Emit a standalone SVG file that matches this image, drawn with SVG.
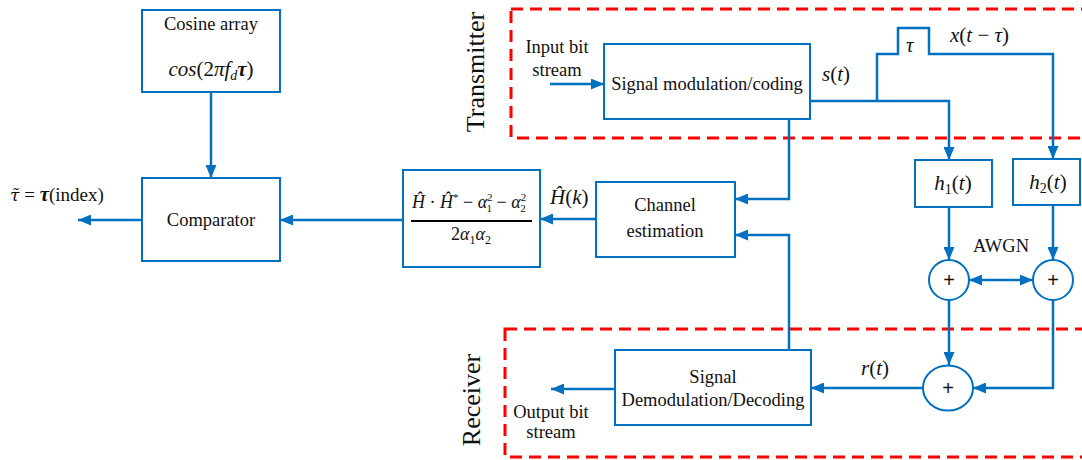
<svg xmlns="http://www.w3.org/2000/svg" width="1082" height="460" viewBox="0 0 1082 460">
<style>
.box{fill:#fff;stroke:#0070C0;stroke-width:2}
.c{fill:none;stroke:#0070C0;stroke-width:2.5}
.dash{fill:none;stroke:#FF0000;stroke-width:3;stroke-dasharray:12 7}
.t{font-family:"Liberation Serif","Times New Roman",serif;font-size:18.5px;fill:#111}
.s{font-size:18.5px}
.m{font-family:"Liberation Serif","Times New Roman",serif;font-size:21px;font-style:italic;fill:#111}
.f{font-size:18px}
.n{font-style:normal}
.mid{text-anchor:middle}
.big{font-family:"Liberation Serif","Times New Roman",serif;font-size:26px;fill:#111}
.plus{font-family:"Liberation Sans",Arial,sans-serif;font-size:20px;fill:#111;text-anchor:middle}
</style>
<defs>
<marker id="ah" markerUnits="userSpaceOnUse" markerWidth="13" markerHeight="11" refX="13" refY="5.5" orient="auto-start-reverse">
<path d="M0,0 L13,5.5 L0,11 z" fill="#0070C0"/>
</marker>
</defs>
<rect x="0" y="0" width="1082" height="460" fill="#fff"/>

<g id="regions">
<rect class="dash" x="511" y="9" width="600" height="129"/>
<rect class="dash" x="505" y="329" width="600" height="128"/>
<text class="big mid" transform="translate(484,72) rotate(-90)">Transmitter</text>
<text class="big mid" transform="translate(480,400) rotate(-90)">Receiver</text>
</g>

<g id="connectors">
<path class="c" d="M211 92 V178" marker-end="url(#ah)"/>
<path class="c" d="M142 220 H78" marker-end="url(#ah)"/>
<path class="c" d="M403 220 H280" marker-end="url(#ah)"/>
<path class="c" d="M596 219 H540" marker-end="url(#ah)"/>
<path class="c" d="M789 119 V199 H735" marker-end="url(#ah)"/>
<path class="c" d="M789 350 V235 H735" marker-end="url(#ah)"/>
<path class="c" d="M550 84 H604" marker-end="url(#ah)"/>
<path class="c" d="M810 101 H949 V160" marker-end="url(#ah)"/>
<path class="c" d="M877 101 V54 H898 V28 H929 V54 H1053 V159" marker-end="url(#ah)"/>
<path class="c" d="M949 207 V260" marker-end="url(#ah)"/>
<path class="c" d="M1053 205 V260" marker-end="url(#ah)"/>
<path class="c" d="M969 280 H1033" marker-start="url(#ah)" marker-end="url(#ah)"/>
<path class="c" d="M949 300 V365" marker-end="url(#ah)"/>
<path class="c" d="M1053 300 V388 H973" marker-end="url(#ah)"/>
<path class="c" d="M923 388 H811" marker-end="url(#ah)"/>
<path class="c" d="M615 389 H551" marker-end="url(#ah)"/>
</g>

<g id="labels">
<text class="t" x="10" y="201" style="font-size:19px"><tspan style="font-family:'DejaVu Serif',serif;font-style:italic;font-size:17px">τ̃</tspan><tspan> =  </tspan><tspan style="font-style:italic;font-weight:bold;font-size:21px">τ</tspan><tspan>(index)</tspan></text>
<text class="m" x="550" y="204">Ĥ<tspan class="n">(</tspan>k<tspan class="n">)</tspan></text>
<text class="t s mid" x="557" y="53">Input bit</text>
<text class="t s mid" x="557" y="76">stream</text>
<text class="m" x="822" y="81">s<tspan class="n">(</tspan>t<tspan class="n">)</tspan></text>
<text class="m" x="906" y="52">τ</text>
<text class="m" x="950" y="42">x<tspan class="n">(</tspan>t<tspan class="n"> − </tspan>τ<tspan class="n">)</tspan></text>
<text class="t s mid" x="1001" y="252">AWGN</text>
<text class="m" x="861" y="375">r<tspan class="n">(</tspan>t<tspan class="n">)</tspan></text>
<text class="t s mid" x="551" y="418">Output bit</text>
<text class="t s mid" x="551" y="438">stream</text>
</g>

<g id="cosine">
<rect class="box" x="142" y="10" width="138" height="82"/>
<text class="t mid" x="211" y="30">Cosine array</text>
<text class="m mid" x="211" y="76">cos<tspan class="n">(2</tspan>πf<tspan style="font-size:14px" dy="4">d</tspan><tspan font-weight="bold" dy="-4">τ</tspan><tspan class="n">)</tspan></text>
</g>

<g id="comparator">
<rect class="box" x="142" y="178" width="138" height="83"/>
<text class="t mid" x="211" y="226">Comparator</text>
</g>

<g id="formula">
<rect class="box" x="403" y="170" width="137" height="97"/>
<text class="m f" x="412" y="208">Ĥ<tspan class="n"> · </tspan>Ĥ<tspan class="n" style="font-size:11px" dy="-7">*</tspan><tspan class="n" dy="7"> − </tspan>α<tspan class="n" style="font-size:11px" dy="-7">2</tspan><tspan class="n" style="font-size:11px" dx="-6" dy="11">1</tspan><tspan class="n" dy="-4"> − </tspan>α<tspan class="n" style="font-size:11px" dy="-7">2</tspan><tspan class="n" style="font-size:11px" dx="-6" dy="11">2</tspan></text>
<line x1="411" y1="221" x2="532" y2="221" stroke="#000" stroke-width="2"/>
<text class="m f mid" x="471" y="240"><tspan class="n">2</tspan>α<tspan class="n" style="font-size:12px" dy="4">1</tspan><tspan dy="-4">α</tspan><tspan class="n" style="font-size:12px" dy="4">2</tspan></text>
</g>

<g id="channel">
<rect class="box" x="596" y="182" width="139" height="75"/>
<text class="t mid" x="665" y="211">Channel</text>
<text class="t mid" x="665" y="237">estimation</text>
</g>

<g id="modulation">
<rect class="box" x="604" y="44" width="206" height="75"/>
<text class="t mid" x="707" y="90">Signal modulation/coding</text>
</g>

<g id="h1">
<rect class="box" x="915" y="160" width="77" height="47"/>
<text class="m mid" x="953" y="190">h<tspan class="n" style="font-size:14px" dy="4">1</tspan><tspan class="n" dy="-4">(</tspan>t<tspan class="n">)</tspan></text>
</g>

<g id="h2">
<rect class="box" x="1013" y="159" width="67" height="46"/>
<text class="m mid" x="1048" y="189">h<tspan class="n" style="font-size:14px" dy="4">2</tspan><tspan class="n" dy="-4">(</tspan>t<tspan class="n">)</tspan></text>
</g>

<g id="sum1">
<circle class="box" cx="949" cy="280" r="20"/>
<text class="plus" x="949" y="287">+</text>
</g>
<g id="sum2">
<circle class="box" cx="1053" cy="280" r="20"/>
<text class="plus" x="1053" y="287">+</text>
</g>
<g id="sum3">
<ellipse class="box" cx="948" cy="388" rx="25" ry="22.5"/>
<text class="plus" x="948" y="395">+</text>
</g>

<g id="demodulation">
<rect class="box" x="615" y="350" width="196" height="75"/>
<text class="t mid" x="713" y="383">Signal</text>
<text class="t mid" x="713" y="406">Demodulation/Decoding</text>
</g>
</svg>
